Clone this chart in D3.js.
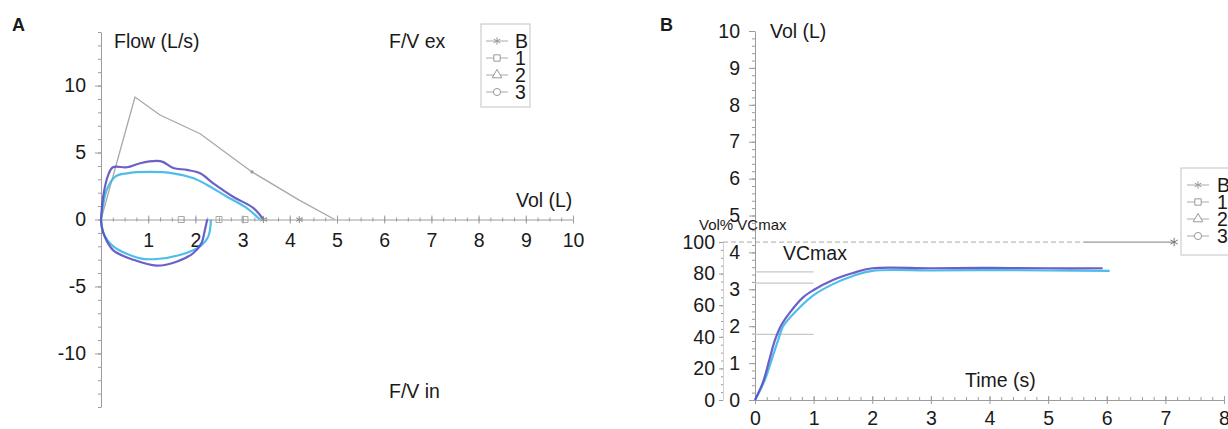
<!DOCTYPE html>
<html>
<head>
<meta charset="utf-8">
<script src="https://cdn.jsdelivr.net/npm/d3@7"></script>
<style>
  body { margin: 0; background: #fff; }
  svg { display: block; font-family: "Liberation Sans", Arial, sans-serif; }
</style>
</head>
<body>
<div id="chart"></div>
<script>
// ---- data ----
// Panel A: flow (L/s) vs volume (L)
const predFlowVol = [[0, 0], [0.72, 9.15], [1.25, 7.8], [2.1, 6.4], [3.2, 3.55], [4.2, 1.45], [4.95, 0]];
const exp1 = [[0, 0], [0.05, 1.8], [0.15, 3.3], [0.25, 3.9], [0.55, 3.9], [0.83, 4.2], [1.18, 4.37], [1.31, 4.3],
  [1.53, 3.85], [1.82, 3.7], [2.1, 3.45], [2.38, 2.7], [2.8, 1.7], [3.23, 0.85], [3.44, 0]];
const insp1 = [[0, 0], [0.02, -0.6], [0.08, -1.3], [0.26, -2.3], [0.68, -3.0], [1.18, -3.45], [1.6, -3.15],
  [1.96, -2.5], [2.13, -1.75], [2.2, -0.8], [2.25, 0]];
const exp3 = [[0, 0], [0.05, 1.2], [0.12, 2.2], [0.3, 3.2], [0.55, 3.45], [1.04, 3.55], [1.53, 3.45], [1.95, 3.1],
  [2.24, 2.6], [2.67, 1.7], [3.09, 0.85], [3.37, 0]];
const insp3 = [[0, 0], [0.05, -1.0], [0.26, -2.0], [0.83, -2.9], [1.18, -2.95], [1.67, -2.65], [2.1, -2.0],
  [2.27, -1.3], [2.33, 0]];
const fvcSquares = [1.7, 2.5, 3.05];
const fvcStars = [3.44, 4.2];
const predDot = [3.2, 3.55];

// Panel B: volume (L) vs time (s)
const volTime1 = [[0, 0], [0.14, 0.5], [0.25, 1.12], [0.34, 1.62], [0.45, 2.03], [0.6, 2.38], [0.82, 2.78],
  [1.0, 2.98], [1.33, 3.25], [1.67, 3.44], [2.0, 3.57], [3, 3.57], [4, 3.58], [5, 3.57], [5.93, 3.57]];
const volTime3 = [[0, 0], [0.17, 0.55], [0.3, 1.17], [0.4, 1.65], [0.48, 2.0], [0.72, 2.44], [1.0, 2.84],
  [1.33, 3.14], [1.67, 3.36], [2.0, 3.5], [3, 3.51], [4, 3.52], [5, 3.51], [6.05, 3.5]];
const vcMax = 4.28;
const predTime = [[5.6, 4.28], [7.15, 4.28]];
const refVols = [3.47, 3.17, 1.78];

const legendNames = ["B", "1", "2", "3"];
const legendSymbols = [d3.symbolAsterisk, d3.symbolSquare, d3.symbolTriangle, d3.symbolCircle];

const width = 1228, height = 429;
const axisColor = "#9c9c9c";
const purple = "#5a4fc2", cyan = "#3cb6e8";
const plain = d => String(d);

const svg = d3.select("#chart").append("svg")
  .attr("width", width).attr("height", height);

function styleAxis(g) {
  g.select(".domain").attr("stroke", axisColor);
  g.selectAll(".tick line").attr("stroke", axisColor);
  g.selectAll(".tick text").attr("fill", "#1a1a1a").attr("font-size", 19.5)
    .attr("font-family", "Liberation Sans, Arial, sans-serif");
}
function minor(g) {
  g.select(".domain").remove();
  g.selectAll(".tick text").remove();
  g.selectAll(".tick line").attr("stroke", axisColor);
}
function text(x, y, s, size, anchor, weight) {
  svg.append("text").attr("x", x).attr("y", y).attr("font-size", size || 19.5)
    .attr("text-anchor", anchor || "start").attr("font-weight", weight || "normal")
    .attr("fill", "#1a1a1a").text(s);
}
function legend(x, y, w, h, mx, tx, y0) {
  const g = svg.append("g");
  g.append("rect").attr("x", x).attr("y", y).attr("width", w).attr("height", h)
    .attr("fill", "#fff").attr("stroke", "#c4c4c4");
  legendNames.forEach((n, i) => {
    const cy = y0 + i * 17;
    g.append("line").attr("x1", mx - 11).attr("x2", mx + 11).attr("y1", cy).attr("y2", cy)
      .attr("stroke", "#aaa");
    g.append("path").attr("transform", `translate(${mx},${cy})`)
      .attr("d", d3.symbol(legendSymbols[i], 40)())
      .attr("fill", i === 0 ? "#888" : "#fff").attr("stroke", "#999");
    g.append("text").attr("x", tx).attr("y", cy).attr("dy", "0.36em")
      .attr("font-size", 19.5).attr("fill", "#1a1a1a").text(n);
  });
}

// ================= Panel A =================
const xA = d3.scaleLinear([0, 10], [101, 573]);
const yA = d3.scaleLinear([-14, 14], [407, 32]);

svg.append("g").attr("transform", `translate(${xA(0)},0)`)
  .call(d3.axisLeft(yA).tickValues(d3.range(-14, 15, 1)).tickSize(3).tickFormat("")).call(minor);
svg.append("g").attr("transform", `translate(${xA(0)},0)`)
  .call(d3.axisLeft(yA).tickValues([-10, -5, 0, 5, 10]).tickSize(6).tickPadding(9).tickSizeOuter(0).tickFormat(plain))
  .call(styleAxis);

svg.append("g").attr("transform", `translate(0,${yA(0)})`)
  .call(d3.axisBottom(xA).tickValues(d3.range(0, 10.01, 0.25)).tickSize(2).tickFormat("")).call(minor)
  .selectAll(".tick line").attr("y1", -2);
svg.append("g").attr("transform", `translate(0,${yA(0)})`)
  .call(d3.axisBottom(xA).tickValues(d3.range(1, 11)).tickSize(4).tickPadding(10).tickSizeOuter(0).tickFormat(plain))
  .call(styleAxis)
  .selectAll(".tick line").attr("y1", -4);

const lineA = d3.line().x(d => xA(d[0])).y(d => yA(d[1]));
const smoothA = d3.line().x(d => xA(d[0])).y(d => yA(d[1])).curve(d3.curveCatmullRom.alpha(0.5));

svg.append("path").datum(predFlowVol).attr("d", lineA)
  .attr("fill", "none").attr("stroke", "#a8a8a8").attr("stroke-width", 1.3);
svg.append("circle").attr("cx", xA(predDot[0])).attr("cy", yA(predDot[1])).attr("r", 1.6).attr("fill", "#999");

[[insp3, cyan], [exp3, cyan], [insp1, purple], [exp1, purple]].forEach(([d, c]) => {
  svg.append("path").datum(d).attr("d", smoothA)
    .attr("fill", "none").attr("stroke", c).attr("stroke-width", 2.2).attr("stroke-opacity", 0.9);
});

fvcSquares.forEach(v => {
  svg.append("path").attr("transform", `translate(${xA(v)},${yA(0)})`)
    .attr("d", d3.symbol(d3.symbolSquare, 36)()).attr("fill", "none").attr("stroke", "#aaa");
});
fvcStars.forEach(v => {
  svg.append("path").attr("transform", `translate(${xA(v)},${yA(0)})`)
    .attr("d", d3.symbol(d3.symbolAsterisk, 36)()).attr("fill", "none").attr("stroke", "#888");
});

text(12, 31, "A", 18, "start", "bold");
text(114, 48, "Flow (L/s)");
text(389, 48, "F/V ex");
text(516, 207, "Vol (L)");
text(389, 398, "F/V in");
legend(481, 24, 49, 83, 497, 515, 41);

// ================= Panel B =================
const xB = d3.scaleLinear([0, 8], [755, 1224]);
const yB = d3.scaleLinear([0, 10], [400, 31]);
const yP = d3.scaleLinear([0, 100], [400, 242]);

// percent axis
svg.append("g").attr("transform", "translate(723,0)")
  .call(d3.axisLeft(yP).tickValues(d3.range(0, 101, 5)).tickSize(2).tickFormat("")).call(minor);
svg.append("g").attr("transform", "translate(723,0)")
  .call(d3.axisLeft(yP).tickValues(d3.range(0, 101, 20)).tickSize(4).tickPadding(4).tickSizeOuter(0).tickFormat(plain))
  .call(styleAxis)
  .call(g => g.select(".domain").attr("stroke", "#d0d0d0"));

// volume axis
svg.append("g").attr("transform", `translate(${xB(0)},0)`)
  .call(d3.axisLeft(yB).tickValues(d3.range(0, 10.01, 0.2)).tickSize(3).tickFormat("")).call(minor);
svg.append("g").attr("transform", `translate(${xB(0)},0)`)
  .call(d3.axisLeft(yB).tickValues(d3.range(0, 11)).tickSize(6).tickPadding(9).tickSizeOuter(0).tickFormat(plain))
  .call(styleAxis);

// time axis
svg.append("g").attr("transform", `translate(0,${yB(0)})`)
  .call(d3.axisBottom(xB).tickValues(d3.range(0, 8.01, 0.2)).tickSize(-3).tickFormat("")).call(minor);
svg.append("g").attr("transform", `translate(0,${yB(0)})`)
  .call(d3.axisBottom(xB).tickValues(d3.range(0, 9)).tickSize(4).tickPadding(7).tickSizeOuter(0).tickFormat(plain))
  .call(styleAxis)
  .selectAll(".tick line").attr("y1", -4);

// reference lines
refVols.forEach(v => {
  svg.append("line").attr("x1", xB(0)).attr("x2", xB(1)).attr("y1", yB(v)).attr("y2", yB(v))
    .attr("stroke", "#c8c8c8").attr("stroke-width", 1.2);
});
svg.append("line").attr("x1", 723).attr("x2", xB(predTime[0][0])).attr("y1", yB(vcMax)).attr("y2", yB(vcMax))
  .attr("stroke", "#aaa").attr("stroke-dasharray", "5,3");

const lineB = d3.line().x(d => xB(d[0])).y(d => yB(d[1]));
const smoothB = d3.line().x(d => xB(d[0])).y(d => yB(d[1])).curve(d3.curveCatmullRom.alpha(0.5));

svg.append("path").datum(predTime).attr("d", lineB)
  .attr("fill", "none").attr("stroke", "#999").attr("stroke-width", 1.3);
svg.append("path").attr("transform", `translate(${xB(predTime[1][0])},${yB(predTime[1][1])})`)
  .attr("d", d3.symbol(d3.symbolAsterisk, 50)()).attr("fill", "none").attr("stroke", "#777");

[[volTime3, cyan], [volTime1, purple]].forEach(([d, c]) => {
  svg.append("path").datum(d).attr("d", smoothB)
    .attr("fill", "none").attr("stroke", c).attr("stroke-width", 2.2).attr("stroke-opacity", 0.9);
});

text(660, 31, "B", 18, "start", "bold");
text(770, 38, "Vol (L)");
text(699, 230, "Vol% VCmax", 15);
text(783, 260, "VCmax");
text(965, 387, "Time (s)");
legend(1181, 168, 60, 87, 1198, 1217, 185);
</script>
</body>
</html>
